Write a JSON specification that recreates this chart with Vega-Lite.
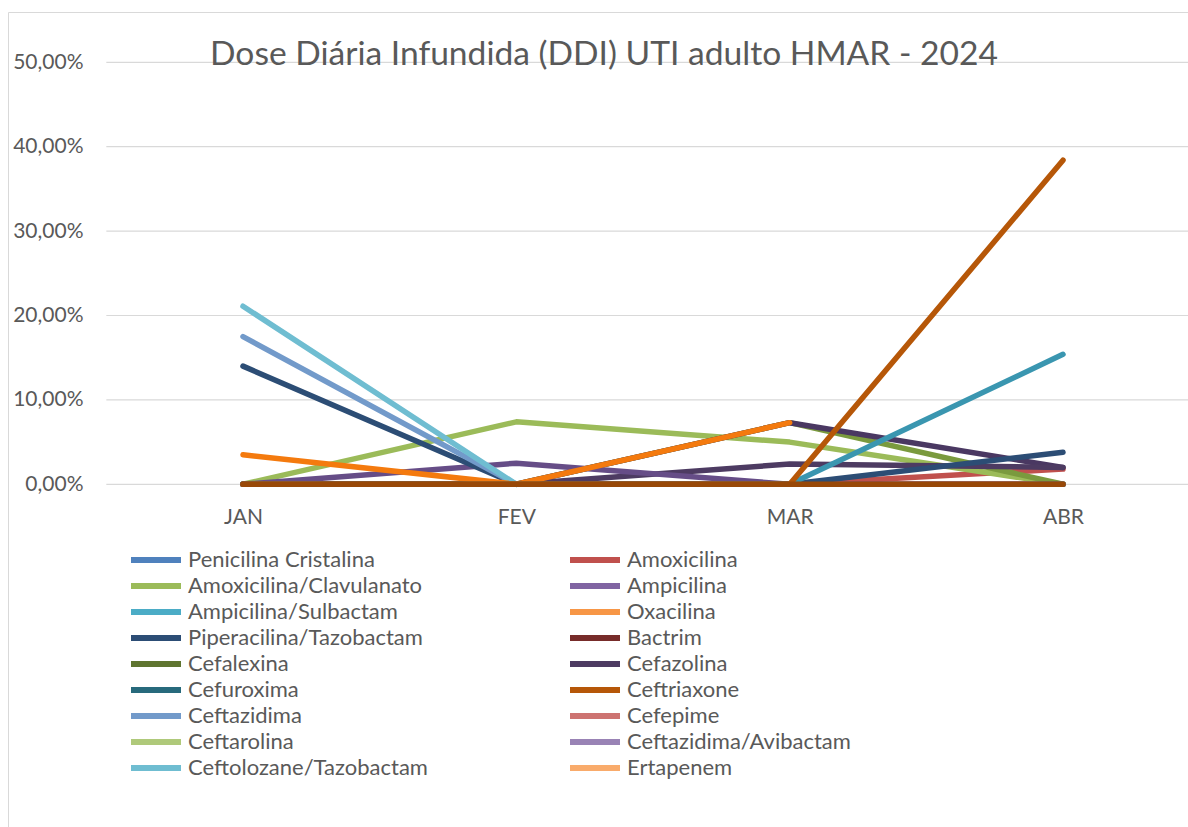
{
  "$schema": "https://vega.github.io/schema/vega-lite/v6.json",
  "width": 1180,
  "height": 815,
  "autosize": {"type": "none"},
  "padding": {"left": 8, "top": 12, "right": 0, "bottom": 0},
  "background": "white",
  "config": {"view": {"stroke": null}, "font": "Lato"},
  "title": {
    "text": "Dose Diária Infundida (DDI) UTI adulto HMAR - 2024",
    "orient": "top",
    "anchor": "middle",
    "frame": "group",
    "offset": -87,
    "baseline": "alphabetic",
    "dx": 6,
    "font": "Lato",
    "fontSize": 33.6,
    "fontWeight": "normal",
    "color": "#595959"
  },
  "datasets": {
    "grid": [{"g": 0}, {"g": 0.1}, {"g": 0.2}, {"g": 0.3}, {"g": 0.4}, {"g": 0.5}],
    "ddi": [
      {"serie": "Penicilina Cristalina", "mes": "JAN", "m": 1, "v": 0},
      {"serie": "Penicilina Cristalina", "mes": "FEV", "m": 2, "v": 0},
      {"serie": "Penicilina Cristalina", "mes": "MAR", "m": 3, "v": 0},
      {"serie": "Penicilina Cristalina", "mes": "ABR", "m": 4, "v": 0},
      {"serie": "Ampicilina", "mes": "JAN", "m": 1, "v": 0},
      {"serie": "Ampicilina", "mes": "FEV", "m": 2, "v": 0},
      {"serie": "Ampicilina", "mes": "MAR", "m": 3, "v": 0},
      {"serie": "Ampicilina", "mes": "ABR", "m": 4, "v": 0},
      {"serie": "Ampicilina/Sulbactam", "mes": "JAN", "m": 1, "v": 0},
      {"serie": "Ampicilina/Sulbactam", "mes": "FEV", "m": 2, "v": 0},
      {"serie": "Ampicilina/Sulbactam", "mes": "MAR", "m": 3, "v": 0},
      {"serie": "Ampicilina/Sulbactam", "mes": "ABR", "m": 4, "v": 0},
      {"serie": "Oxacilina", "mes": "JAN", "m": 1, "v": 0},
      {"serie": "Oxacilina", "mes": "FEV", "m": 2, "v": 0},
      {"serie": "Oxacilina", "mes": "MAR", "m": 3, "v": 0},
      {"serie": "Oxacilina", "mes": "ABR", "m": 4, "v": 0},
      {"serie": "Bactrim", "mes": "JAN", "m": 1, "v": 0},
      {"serie": "Bactrim", "mes": "FEV", "m": 2, "v": 0},
      {"serie": "Bactrim", "mes": "MAR", "m": 3, "v": 0},
      {"serie": "Bactrim", "mes": "ABR", "m": 4, "v": 0},
      {"serie": "Cefalexina", "mes": "JAN", "m": 1, "v": 0},
      {"serie": "Cefalexina", "mes": "FEV", "m": 2, "v": 0},
      {"serie": "Cefalexina", "mes": "MAR", "m": 3, "v": 0},
      {"serie": "Cefalexina", "mes": "ABR", "m": 4, "v": 0},
      {"serie": "Cefuroxima", "mes": "JAN", "m": 1, "v": 0},
      {"serie": "Cefuroxima", "mes": "FEV", "m": 2, "v": 0},
      {"serie": "Cefuroxima", "mes": "MAR", "m": 3, "v": 0},
      {"serie": "Cefuroxima", "mes": "ABR", "m": 4, "v": 0},
      {"serie": "Cefepime", "mes": "JAN", "m": 1, "v": 0},
      {"serie": "Cefepime", "mes": "FEV", "m": 2, "v": 0},
      {"serie": "Cefepime", "mes": "MAR", "m": 3, "v": 0},
      {"serie": "Cefepime", "mes": "ABR", "m": 4, "v": 0},
      {"serie": "Ceftarolina", "mes": "JAN", "m": 1, "v": 0},
      {"serie": "Ceftarolina", "mes": "FEV", "m": 2, "v": 0},
      {"serie": "Ceftarolina", "mes": "MAR", "m": 3, "v": 0},
      {"serie": "Ceftarolina", "mes": "ABR", "m": 4, "v": 0},
      {"serie": "Ceftazidima/Avibactam", "mes": "JAN", "m": 1, "v": 0},
      {"serie": "Ceftazidima/Avibactam", "mes": "FEV", "m": 2, "v": 0},
      {"serie": "Ceftazidima/Avibactam", "mes": "MAR", "m": 3, "v": 0},
      {"serie": "Ceftazidima/Avibactam", "mes": "ABR", "m": 4, "v": 0},
      {"serie": "Ertapenem", "mes": "JAN", "m": 1, "v": 0},
      {"serie": "Ertapenem", "mes": "FEV", "m": 2, "v": 0},
      {"serie": "Ertapenem", "mes": "MAR", "m": 3, "v": 0},
      {"serie": "Ertapenem", "mes": "ABR", "m": 4, "v": 0},
      {"serie": "Amoxicilina", "mes": "JAN", "m": 1, "v": 0},
      {"serie": "Amoxicilina", "mes": "FEV", "m": 2, "v": 0},
      {"serie": "Amoxicilina", "mes": "MAR", "m": 3, "v": 0},
      {"serie": "Amoxicilina", "mes": "ABR", "m": 4, "v": 0.018},
      {"serie": "Amoxicilina/Clavulanato", "mes": "JAN", "m": 1, "v": 0},
      {"serie": "Amoxicilina/Clavulanato", "mes": "FEV", "m": 2, "v": 0.074},
      {"serie": "Amoxicilina/Clavulanato", "mes": "MAR", "m": 3, "v": 0.05},
      {"serie": "Amoxicilina/Clavulanato", "mes": "ABR", "m": 4, "v": 0},
      {"serie": "Série 19", "mes": "JAN", "m": 1, "v": 0},
      {"serie": "Série 19", "mes": "FEV", "m": 2, "v": 0},
      {"serie": "Série 19", "mes": "MAR", "m": 3, "v": 0.073},
      {"serie": "Série 19", "mes": "ABR", "m": 4, "v": 0},
      {"serie": "Série 20", "mes": "JAN", "m": 1, "v": 0},
      {"serie": "Série 20", "mes": "FEV", "m": 2, "v": 0},
      {"serie": "Série 20", "mes": "MAR", "m": 3, "v": 0.073},
      {"serie": "Série 20", "mes": "ABR", "m": 4, "v": 0.02},
      {"serie": "Cefazolina", "mes": "JAN", "m": 1, "v": 0},
      {"serie": "Cefazolina", "mes": "FEV", "m": 2, "v": 0},
      {"serie": "Cefazolina", "mes": "MAR", "m": 3, "v": 0.024},
      {"serie": "Cefazolina", "mes": "ABR", "m": 4, "v": 0.02},
      {"serie": "Série 21", "mes": "JAN", "m": 1, "v": 0},
      {"serie": "Série 21", "mes": "FEV", "m": 2, "v": 0.025},
      {"serie": "Série 21", "mes": "MAR", "m": 3, "v": 0},
      {"serie": "Série 21", "mes": "ABR", "m": 4, "v": 0},
      {"serie": "Piperacilina/Tazobactam", "mes": "JAN", "m": 1, "v": 0.14},
      {"serie": "Piperacilina/Tazobactam", "mes": "FEV", "m": 2, "v": 0},
      {"serie": "Piperacilina/Tazobactam", "mes": "MAR", "m": 3, "v": 0},
      {"serie": "Piperacilina/Tazobactam", "mes": "ABR", "m": 4, "v": 0.038},
      {"serie": "Ceftazidima", "mes": "JAN", "m": 1, "v": 0.175},
      {"serie": "Ceftazidima", "mes": "FEV", "m": 2, "v": 0},
      {"serie": "Ceftolozane/Tazobactam", "mes": "JAN", "m": 1, "v": 0.211},
      {"serie": "Ceftolozane/Tazobactam", "mes": "FEV", "m": 2, "v": 0},
      {"serie": "Série 22", "mes": "JAN", "m": 1, "v": 0.035},
      {"serie": "Série 22", "mes": "FEV", "m": 2, "v": 0},
      {"serie": "Série 22", "mes": "MAR", "m": 3, "v": 0.073},
      {"serie": "Série 23", "mes": "JAN", "m": 1, "v": 0},
      {"serie": "Série 23", "mes": "FEV", "m": 2, "v": 0},
      {"serie": "Série 23", "mes": "MAR", "m": 3, "v": 0},
      {"serie": "Série 23", "mes": "ABR", "m": 4, "v": 0.154},
      {"serie": "Ceftriaxone", "mes": "JAN", "m": 1, "v": 0},
      {"serie": "Ceftriaxone", "mes": "FEV", "m": 2, "v": 0},
      {"serie": "Ceftriaxone", "mes": "MAR", "m": 3, "v": 0},
      {"serie": "Ceftriaxone", "mes": "ABR", "m": 4, "v": 0.384},
      {"serie": "Série 24", "mes": "JAN", "m": 1, "v": 0},
      {"serie": "Série 24", "mes": "FEV", "m": 2, "v": 0},
      {"serie": "Série 24", "mes": "MAR", "m": 3, "v": 0},
      {"serie": "Série 24", "mes": "ABR", "m": 4, "v": 0}
    ]
  },
  "layer": [
    {
      "data": {"name": "grid"},
      "mark": {"type": "rule", "color": "#D9D9D9", "strokeWidth": 1.2, "clip": true},
      "encoding": {
        "y": {"field": "g", "type": "quantitative"},
        "x": {"datum": 0.5, "type": "quantitative"},
        "x2": {"datum": 4.6}
      }
    },
    {
      "data": {"name": "ddi"},
      "mark": {"type": "line", "strokeWidth": 5.5, "strokeCap": "round", "strokeJoin": "round"},
      "encoding": {
        "x": {
          "field": "m",
          "type": "quantitative",
          "scale": {"domain": [0.14024, 4.45732], "nice": false, "zero": false},
          "axis": {
            "orient": "top",
            "values": [1, 2, 3, 4],
            "labelExpr": "['','JAN','FEV','MAR','ABR'][datum.value]",
            "ticks": false,
            "tickSize": 0,
            "grid": false,
            "domain": true,
            "domainColor": "#D9D9D9",
            "domainWidth": 1,
            "labelPadding": -511,
            "labelBaseline": "alphabetic",
            "labelFlush": false,
            "labelOverlap": false,
            "labelFont": "Lato",
            "labelFontSize": 21,
            "labelColor": "#595959",
            "title": null
          }
        },
        "y": {
          "field": "v",
          "type": "quantitative",
          "scale": {"domain": [-0.40604, 0.5596], "nice": false, "zero": false},
          "axis": {
            "orient": "left",
            "values": [0, 0.1, 0.2, 0.3, 0.4, 0.5],
            "labelExpr": "replace(format(datum.value, '.2%'), '.', ',')",
            "ticks": false,
            "tickSize": 0,
            "grid": false,
            "domain": true,
            "domainColor": "#D9D9D9",
            "domainWidth": 1,
            "labelPadding": -75,
            "labelAlign": "right",
            "labelBaseline": "middle",
            "labelOverlap": false,
            "labelFont": "Lato",
            "labelFontSize": 21,
            "labelColor": "#595959",
            "title": null
          }
        },
        "color": {
          "field": "serie",
          "type": "nominal",
          "scale": {
            "domain": ["Penicilina Cristalina", "Amoxicilina", "Amoxicilina/Clavulanato", "Ampicilina", "Ampicilina/Sulbactam", "Oxacilina", "Piperacilina/Tazobactam", "Bactrim", "Cefalexina", "Cefazolina", "Cefuroxima", "Ceftriaxone", "Ceftazidima", "Cefepime", "Ceftarolina", "Ceftazidima/Avibactam", "Ceftolozane/Tazobactam", "Ertapenem", "Série 19", "Série 20", "Série 21", "Série 22", "Série 23", "Série 24"],
            "range": ["#4F81BD", "#C0504D", "#9BBB59", "#8064A2", "#4BACC6", "#F79646", "#2C4D75", "#772C2A", "#5F7530", "#4D3B62", "#276A7C", "#B65708", "#729ACA", "#CD7371", "#AFC97A", "#9983B5", "#6FBDD1", "#F9AB6B", "#7A9A3E", "#4A3862", "#664D87", "#F47A0E", "#3A96B0", "#984807"]
          },
          "legend": {
            "values": ["Penicilina Cristalina", "Amoxicilina", "Amoxicilina/Clavulanato", "Ampicilina", "Ampicilina/Sulbactam", "Oxacilina", "Piperacilina/Tazobactam", "Bactrim", "Cefalexina", "Cefazolina", "Cefuroxima", "Ceftriaxone", "Ceftazidima", "Cefepime", "Ceftarolina", "Ceftazidima/Avibactam", "Ceftolozane/Tazobactam", "Ertapenem"],
            "orient": "none",
            "direction": "horizontal",
            "legendX": 120,
            "legendY": 535,
            "columns": 2,
            "columnPadding": 139,
            "rowPadding": 0,
            "clipHeight": 25.8,
            "symbolType": "stroke",
            "symbolStrokeWidth": 6,
            "symbolSize": 2500,
            "labelFont": "Lato",
            "labelFontSize": 22,
            "labelColor": "#595959",
            "labelLimit": 500,
            "labelOffset": 4,
            "title": null
          }
        }
      }
    }
  ]
}
